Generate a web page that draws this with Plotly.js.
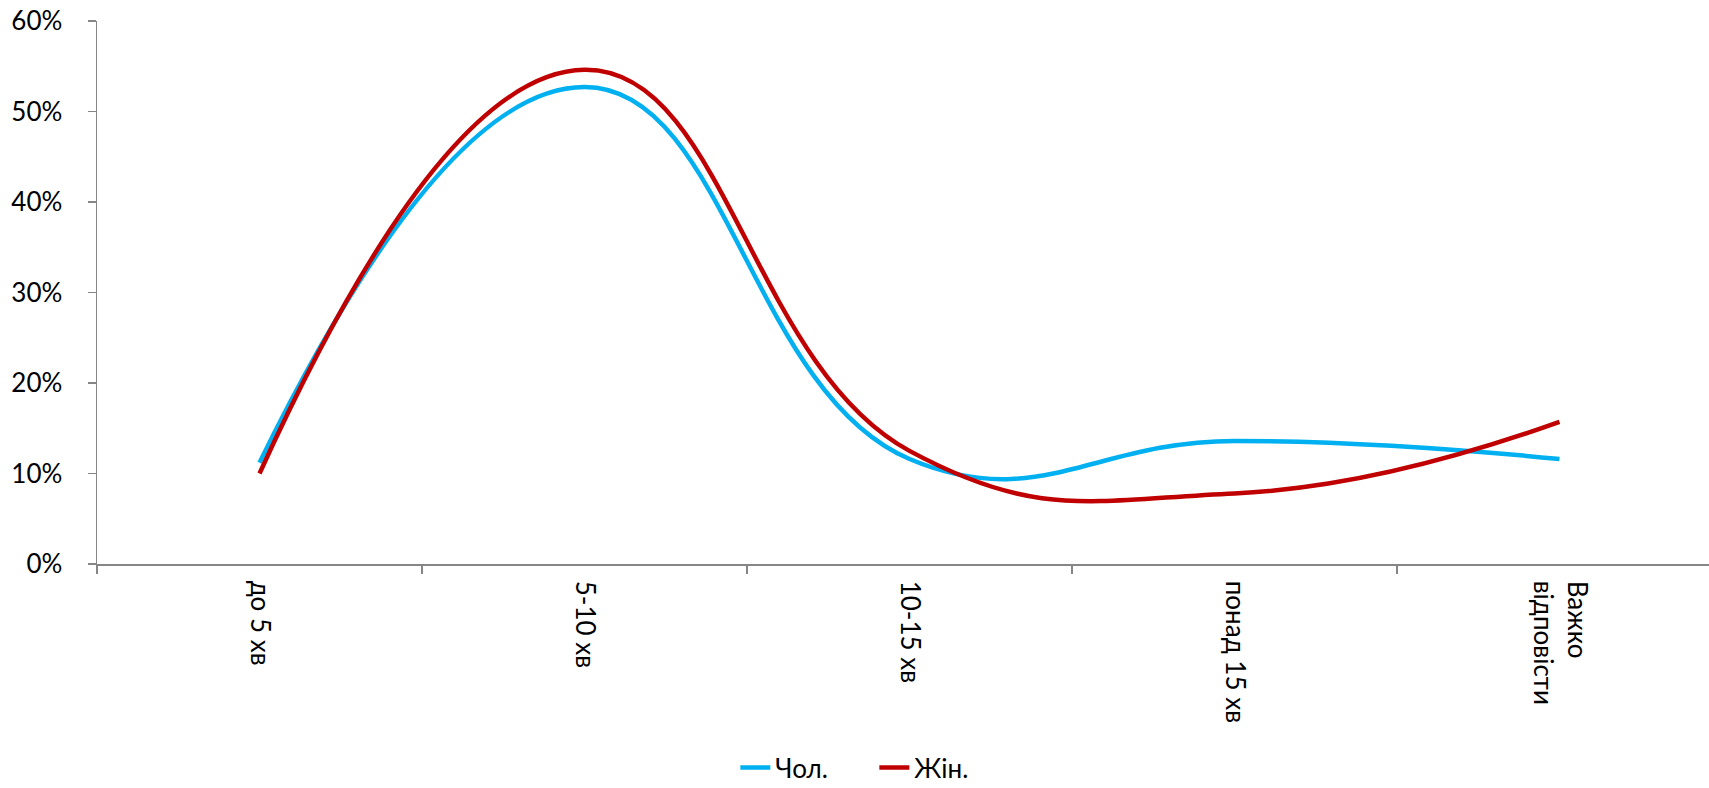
<!DOCTYPE html>
<html>
<head>
<meta charset="utf-8">
<script src="https://cdn.plot.ly/plotly-3.0.1.min.js"></script>
<style>html,body{margin:0;padding:0;background:#fff;}#chart{width:1709px;height:788px;}</style>
</head>
<body>
<div id="chart"></div>
<script>
const categories = ["до 5 хв", "5-10 хв", "10-15 хв", "понад 15 хв", "Важко<br>відповісти"];
const seriesNames = ["Чол.", "Жін."];
const cholValues = [0.112, 0.527, 0.116, 0.136, 0.116];
const zhinValues = [0.100, 0.546, 0.125, 0.078, 0.157];
const yTickVals = [0, 0.1, 0.2, 0.3, 0.4, 0.5, 0.6];
const yTickText = ["0%", "10%", "20%", "30%", "40%", "50%", "60%"];

const font = {family: "Lato, 'Open Sans', sans-serif", size: 26, color: "#000"};

const traces = [
  {x: categories, y: cholValues, name: seriesNames[0], type: "scatter", mode: "lines",
   line: {color: "#00B0F0", width: 4.5, shape: "spline", smoothing: 1.3}},
  {x: categories, y: zhinValues, name: seriesNames[1], type: "scatter", mode: "lines",
   line: {color: "#C00000", width: 4.5, shape: "spline", smoothing: 1.3}}
];

const layout = {
  width: 1709, height: 788,
  margin: {l: 97, r: 0, t: 21, b: 224, pad: 0, autoexpand: false},
  paper_bgcolor: "#fff", plot_bgcolor: "#fff",
  font: font,
  showlegend: true,
  legend: {orientation: "h", x: 0.396, xanchor: "left", y: -0.375, yanchor: "middle",
           font: font, bgcolor: "rgba(0,0,0,0)", itemwidth: 30, tracegroupgap: 0,
           entrywidth: 94, entrywidthmode: "pixels"},
  xaxis: {
    type: "category", range: [-0.5, 4.46], tickangle: 90, automargin: false,
    showline: true, linecolor: "#868686", linewidth: 1.5,
    ticks: "outside", tickson: "boundaries", ticklen: 8, tickcolor: "#868686", tickwidth: 1.5,
    showgrid: false, zeroline: false, tickfont: font, ticklabelstandoff: 10
  },
  yaxis: {
    range: [0, 0.6], tickvals: yTickVals, ticktext: yTickText, automargin: false,
    showline: true, linecolor: "#868686", linewidth: 1.5,
    ticks: "outside", ticklen: 8, tickcolor: "#868686", tickwidth: 1.5,
    showgrid: false, zeroline: false, tickfont: font, ticklabelstandoff: 20
  }
};

Plotly.newPlot("chart", traces, layout, {displayModeBar: false, staticPlot: true});
</script>
</body>
</html>
